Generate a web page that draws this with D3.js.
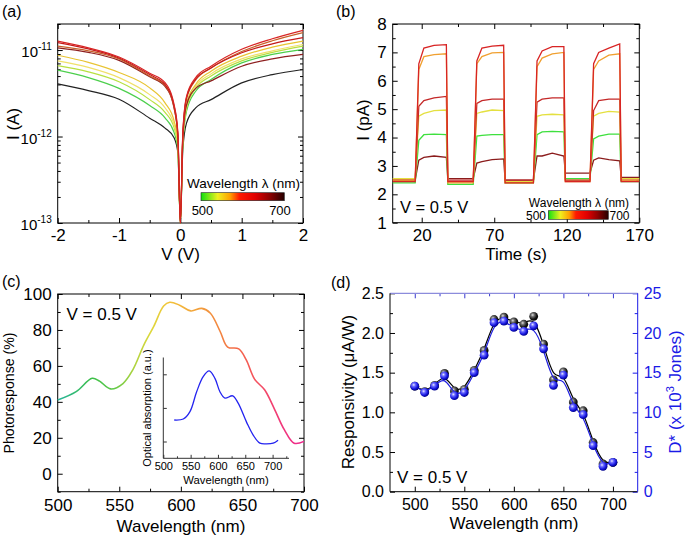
<!DOCTYPE html>
<html><head><meta charset="utf-8">
<script src="https://cdn.jsdelivr.net/npm/d3@7"></script>
<style>
body{margin:0;background:#fff;}
svg text{font-family:"Liberation Sans",Arial,sans-serif;}
</style></head><body>
<svg id="chart" width="685" height="536" xmlns="http://www.w3.org/2000/svg"></svg>
<script>
// ---------------- DATA ----------------
// (a) I-V curves, |I| in pA
const ivV = [-2,-1.5,-1,-0.5,-0.25,-0.1,-0.04,0,0.04,0.1,0.25,0.5,1,1.5,2];
const ivDark   = [4.06,3.4,2.7,1.63,1.25,0.96,0.65,0.1,0.7,1.43,2.14,2.67,4.17,5.2,5.96];
const iv510    = [5.85,4.8,3.6,2.28,1.64,1.1,0.7,0.1,0.8,1.95,3.34,4.56,7.1,8.9,10.2];
const iv540    = [6.6,5.6,4.3,2.67,1.9,1.25,0.75,0.1,0.85,2.1,3.6,5.0,7.5,9.4,11.1];
const iv565    = [7.5,6.3,4.8,3.05,2.15,1.35,0.8,0.1,0.9,2.2,3.8,5.3,7.9,9.8,11.6];
const iv580    = [8.7,7.2,5.5,3.65,2.45,1.5,0.85,0.1,0.95,2.4,4.0,5.7,8.5,10.8,12.7];
const iv690    = [10.6,9.4,7.6,4.9,3.8,2.1,1.0,0.1,0.95,2.3,3.6,4.4,6.5,7.9,8.9];
const iv600    = [11.1,9.8,7.9,5.0,3.9,2.1,1.0,0.1,1.0,2.7,4.5,6.2,9.6,12.8,15.9];
const iv650    = [12.2,10.3,8.1,5.2,4.0,2.2,1.05,0.1,1.05,2.8,4.6,6.2,9.3,11.8,13.9];
const iv620    = [12.7,10.6,8.3,5.4,4.2,2.3,1.1,0.1,1.1,2.9,4.8,6.5,10.2,13.5,16.9];
const ivSeries = [
  {v: ivDark, c:'#222222'}, {v: iv510, c:'#4ccf4c'}, {v: iv540, c:'#b8e040'},
  {v: iv565, c:'#f0e06a'}, {v: iv580, c:'#e8c432'}, {v: iv690, c:'#8e2020'},
  {v: iv600, c:'#c8602a'}, {v: iv650, c:'#c41a1a'}, {v: iv620, c:'#d82424'}
];
const aXTicks = [-2,-1,0,1,2];
const aXMinor = [-1.5,-0.5,0.5,1.5];
const aYTicks = [1e-13,1e-12,1e-11];
const aYLabels = ['-13','-12','-11'];

// (b) transient photocurrent (pA)
const tOn  = [15.5, 55.5, 97, 136];
const tOff = [37, 76.5, 118, 156.5];
const platOffsets = [2.5, 6, 13];   // s after light on where plateau levels were read
const bTraces = [
  {c:'#8b1c1c', base:[2.5,2.55,2.5,2.75,2.6], plat:[[3.2,3.3,3.35,3.3],[3.1,3.15,3.22,3.25],[3.35,3.35,3.45,3.35],[3.2,3.28,3.22,3.18]]},
  {c:'#3ee03e', base:[2.4,2.35,2.4,2.55,2.45], plat:[[3.9,4.1,4.12,4.1],[4.05,4.08,4.1,4.1],[4.1,4.2,4.22,4.2],[3.95,4.05,4.12,4.12]]},
  {c:'#e4e040', base:[2.55,2.45,2.45,2.5,2.55], plat:[[4.75,4.85,4.95,4.97],[4.85,4.9,4.97,4.95],[4.75,4.8,4.82,4.8],[4.75,4.85,4.92,4.9]]},
  {c:'#c42828', base:[2.5,2.5,2.5,2.5,2.5], plat:[[5.1,5.3,5.4,5.45],[5.2,5.3,5.35,5.35],[5.25,5.35,5.4,5.4],[4.95,5.3,5.35,5.35]]},
  {c:'#f0a030', base:[2.5,2.4,2.4,2.45,2.5], plat:[[6.4,6.85,6.92,6.95],[6.6,6.85,6.98,7.0],[6.5,6.8,6.95,7.0],[6.4,6.7,6.9,6.95]]},
  {c:'#d82424', base:[2.45,2.45,2.4,2.45,2.45], plat:[[6.6,7.15,7.25,7.27],[6.7,7.15,7.22,7.25],[6.7,7.05,7.2,7.2],[6.6,7.0,7.15,7.3]]}
];
const bXTicks = [20,70,120,170];
const bXMinor = [45,95,145];
const bYTicks = [1,2,3,4,5,6,7,8];
const bYMinor = [1.5,2.5,3.5,4.5,5.5,6.5,7.5];

// (c) photoresponse spectrum
const prWl  = [500,515,528,534,543,553,561,570,578,586,591,599,608,617,624,632,638,647,653,660,668,676,684,692,700];
const prVal = [41,45.7,53.1,51.5,47.2,50.2,57.8,71.7,82,93.3,95.4,93.8,90.6,92,89.3,79,70.5,69.5,63.5,52.5,46.7,36,24.5,17,18];
const absWl  = [520,536.6,548.8,561,573,584,594.5,603.6,612.8,626.9,637,652.5,664.5,676.8,689,701,710];
const absVal = [1.14,1.17,1.39,1.98,2.43,2.6,2.38,1.98,1.79,1.86,1.64,1.07,0.69,0.45,0.43,0.45,0.54];
const cXTicks = [500,550,600,650,700];
const cXMinor = [525,575,625,675];
const cYTicks = [0,20,40,60,80,100];
const cYMinor = [-10,10,30,50,70,90];
const insXTicks = [500,550,600,650,700];
const insXMinor = [525,575,625,675,725];
const insYTicks = [0.5,1.5,2.5];

// (d) responsivity & detectivity
const dWl    = [500,510,520,530,540,550,560,570,580,590,600,610,620,630,640,650,660,670,680,690,700];
const resp   = [1.33,1.26,1.34,1.49,1.27,1.29,1.53,1.78,2.17,2.2,2.14,2.11,2.21,1.86,1.41,1.51,1.13,1.02,0.62,0.35,0.37];
const dstar  = [13.3,12.5,13.3,14.6,12.1,12.5,15.0,17.2,21.3,21.5,20.7,20.2,20.9,18.0,13.4,14.7,10.6,9.7,5.8,3.2,3.7];
const dXTicks = [500,550,600,650,700];
const dXMinor = [525,575,625,675];
const dYTicks = [0,0.5,1,1.5,2,2.5];
const dYMinor = [0.25,0.75,1.25,1.75,2.25];
const dY2Ticks = [0,5,10,15,20,25];
const dY2Minor = [2.5,7.5,12.5,17.5,22.5];

// ---------------- DRAW ----------------
const FONT = '"Liberation Sans", Arial, sans-serif';
const svg = d3.select('#chart');
svg.append('rect').attr('width',685).attr('height',536).attr('fill','#fff');
const defs = svg.append('defs');

function ax(g, orient, scale, pos, major, minor, fmt, opt={}) {
  const gen = {bottom:d3.axisBottom, top:d3.axisTop, left:d3.axisLeft, right:d3.axisRight}[orient];
  const tr = (orient==='bottom'||orient==='top') ? `translate(0,${pos})` : `translate(${pos},0)`;
  const color = opt.color || '#000';
  const a = g.append('g').attr('transform', tr)
    .call(gen(scale).tickValues(major).tickSize(-(opt.len||5)).tickSizeOuter(0)
      .tickPadding(opt.pad==null?6:opt.pad).tickFormat(fmt || (()=>'')));
  a.attr('font-family', null).attr('font-size', null);
  a.select('.domain').remove();
  a.selectAll('line').attr('stroke', color);
  a.selectAll('text').attr('fill', opt.tcolor || color).style('font-size', (opt.fs||17)+'px').style('font-family', FONT);
  if (minor) {
    const m = g.append('g').attr('transform', tr)
      .call(gen(scale).tickValues(minor).tickSize(-(opt.mlen||3)).tickSizeOuter(0).tickFormat(()=>''));
    m.select('.domain').remove();
    m.selectAll('line').attr('stroke', color);
  }
  return a;
}
function box(g, x, y, color='#000') {
  const [x0,x1] = x.range(), [y0,y1] = y.range();
  g.append('rect').attr('x',x0).attr('y',y1).attr('width',x1-x0).attr('height',y0-y1)
    .attr('fill','none').attr('stroke',color).attr('stroke-width',1);
}
function txt(g, x, y, s, fs, opt={}) {
  const t = g.append('text').attr('x',x).attr('y',y).text(s)
    .style('font-size', fs+'px').attr('text-anchor', opt.anchor||'start').attr('fill', opt.fill||'#000');
  if (opt.rot) t.attr('transform', `rotate(-90,${x},${y})`);
  if (opt.family) t.style('font-family', opt.family);
  return t;
}
function gradient(id, stops, attrs) {
  const lg = defs.append('linearGradient').attr('id', id);
  Object.entries(attrs||{x1:'0%',x2:'100%',y1:'0%',y2:'0%'}).forEach(([k,v])=>lg.attr(k,v));
  stops.forEach(s=>lg.append('stop').attr('offset', s[0]).attr('stop-color', s[1]));
}
const cbStops = [[0,'#10e010'],[0.2,'#eef020'],[0.35,'#ffa000'],[0.46,'#ff1a00'],[0.65,'#e00000'],[0.82,'#900000'],[1,'#250000']];
gradient('cbar', cbStops);

// ===== Panel (a) =====
const gA = svg.append('g');
const xA = d3.scaleLinear([-2,2],[57.7,303]);
const yA = d3.scaleLog([1e-13,2e-11],[223,24]);
const aMinorY = [];
[1e-13,1e-12].forEach(d=>{ for(let k=2;k<=9;k++) aMinorY.push(k*d); });
aMinorY.push(2e-11);
ax(gA,'bottom',xA,223,aXTicks,aXMinor,d=>String(d),{pad:6});
ax(gA,'top',xA,24,aXTicks,aXMinor,null);
const ayAx = ax(gA,'left',yA,57.7,aYTicks,aMinorY,()=>'',{pad:6});
ayAx.selectAll('text').each(function(d,i){
  const t = d3.select(this);
  t.attr('dy','0.4em');
  t.append('tspan').text('10').style('font-size','15px');
  t.append('tspan').text(aYLabels[i]).attr('dy','-7').style('font-size','10px');
});
ax(gA,'right',yA,303,aYTicks,aMinorY,null);
box(gA,xA,yA);
const lineA = d3.line().x(d=>xA(d[0])).y(d=>yA(d[1]*1e-12)).curve(d3.curveMonotoneX);
ivSeries.forEach(s=>{
  gA.append('path').datum(ivV.map((v,i)=>[v,s.v[i]])).attr('d',lineA)
    .attr('fill','none').attr('stroke',s.c).attr('stroke-width',1.2);
});
txt(gA,2,17,'(a)',16);
txt(gA,19,124,'I (A)',17,{anchor:'middle',rot:true});
txt(gA,180.5,260,'V (V)',17,{anchor:'middle'});
// colorbar (a)
gA.append('rect').attr('x',201).attr('y',192.7).attr('width',83.3).attr('height',8)
  .attr('fill','url(#cbar)').attr('stroke','#222').attr('stroke-width',0.6);
txt(gA,243.5,188,'Wavelength λ (nm)',13.5,{anchor:'middle'});
txt(gA,202.5,215,'500',13,{anchor:'middle'});
txt(gA,280,215,'700',13,{anchor:'middle'});

// ===== Panel (b) =====
const gB = svg.append('g');
const xB = d3.scaleLinear([0,170],[392.7,639.3]);
const yB = d3.scaleLinear([1,8],[222.7,24]);
ax(gB,'bottom',xB,222.7,bXTicks,bXMinor,d3.format('d'),{pad:6});
ax(gB,'top',xB,24,bXTicks,bXMinor,null);
ax(gB,'left',yB,392.7,bYTicks,bYMinor,d3.format('d'),{pad:6});
ax(gB,'right',yB,639.3,bYTicks,bYMinor,null);
box(gB,xB,yB);
const lineB = d3.line().x(d=>xB(d[0])).y(d=>yB(d[1]));
bTraces.forEach(tr=>{
  const pts = [[0,tr.base[0]]];
  tOn.forEach((on,i)=>{
    pts.push([on, tr.base[i]]);
    platOffsets.forEach((o,k)=>pts.push([on+o, tr.plat[i][k]]));
    pts.push([tOff[i], tr.plat[i][3]]);
    pts.push([tOff[i]+1, tr.base[i+1]]);
  });
  pts.push([170, tr.base[4]]);
  gB.append('path').datum(pts).attr('d',lineB).attr('fill','none').attr('stroke',tr.c).attr('stroke-width',1.3);
});
txt(gB,336,17,'(b)',16);
txt(gB,369,120,'I (pA)',17,{anchor:'middle',rot:true});
txt(gB,516,260,'Time (s)',17,{anchor:'middle'});
txt(gB,400,213,'V = 0.5 V',16.5);
gB.append('rect').attr('x',548.3).attr('y',210.7).attr('width',60).attr('height',8.6)
  .attr('fill','url(#cbar)').attr('stroke','#222').attr('stroke-width',0.6);
txt(gB,579,207,'Wavelength λ (nm)',12,{anchor:'middle'});
txt(gB,546,219.5,'500',12,{anchor:'end'});
txt(gB,609.5,219.5,'700',12);

// ===== Panel (c) =====
const gC = svg.append('g');
const xC = d3.scaleLinear([500,700],[57.7,304]);
const yC = d3.scaleLinear([-10,100],[491.7,294]);
ax(gC,'bottom',xC,491.7,cXTicks,cXMinor,d3.format('d'),{pad:7});
ax(gC,'top',xC,294,cXTicks,cXMinor,null);
ax(gC,'left',yC,57.7,cYTicks,cYMinor,d3.format('d'),{pad:6});
ax(gC,'right',yC,304,cYTicks,cYMinor,null);
box(gC,xC,yC);
gradient('prgrad', [[0,'#28b59c'],[0.14,'#3cbf48'],[0.225,'#5ec94a'],[0.3,'#a5d23f'],[0.375,'#dcd83c'],[0.45,'#f2c43a'],[0.55,'#f2a63c'],[0.65,'#f2883f'],[0.725,'#f46a48'],[0.8,'#f4525c'],[0.9,'#f03a78'],[1,'#ee2890']],
  {gradientUnits:'userSpaceOnUse', x1:xC(500), x2:xC(700), y1:0, y2:0});
const lineC = d3.line().x(d=>xC(d[0])).y(d=>yC(d[1])).curve(d3.curveCatmullRom.alpha(0.5));
gC.append('path').datum(prWl.map((w,i)=>[w,prVal[i]])).attr('d',lineC)
  .attr('fill','none').attr('stroke','url(#prgrad)').attr('stroke-width',1.6);
txt(gC,2,287,'(c)',16);
txt(gC,14,393,'Photoresponse (%)',15,{anchor:'middle',rot:true}).attr('textLength',121).attr('lengthAdjust','spacingAndGlyphs');
txt(gC,181,532,'Wavelength (nm)',17,{anchor:'middle'});
txt(gC,66.5,320,'V = 0.5 V',17);
// inset
const xI = d3.scaleLinear([500,730],[163.3,289]);
const yI = d3.scaleLinear([0,3],[458.3,357.5]);
const gI = gC.append('g');
ax(gI,'bottom',xI,458.3,insXTicks,insXMinor,d3.format('d'),{pad:4,fs:11,len:3.5,mlen:2,color:'#333',tcolor:'#000'});
ax(gI,'left',yI,163.3,insYTicks,null,null,{len:3.5,color:'#333'});
gI.append('line').attr('x1',163.3).attr('x2',289).attr('y1',458.3).attr('y2',458.3).attr('stroke','#333');
gI.append('line').attr('x1',163.3).attr('x2',163.3).attr('y1',357.5).attr('y2',458.3).attr('stroke','#333');
const lineI = d3.line().x(d=>xI(d[0])).y(d=>yI(d[1])).curve(d3.curveCatmullRom.alpha(0.5));
gI.append('path').datum(absWl.map((w,i)=>[w,absVal[i]])).attr('d',lineI)
  .attr('fill','none').attr('stroke','#2424f0').attr('stroke-width',1.3);
txt(gI,150.5,408,'Optical absorption (a.u.)',11,{anchor:'middle',rot:true});
txt(gI,226,484,'Wavelength (nm)',11.3,{anchor:'middle'});

// ===== Panel (d) =====
const gD = svg.append('g');
const xD = d3.scaleLinear([475,725],[390,637.7]);
const yD = d3.scaleLinear([0,2.5],[491.7,293.3]);
const yD2 = d3.scaleLinear([0,25],[491.7,293.3]);
const BLUE = '#1a1ae6', TOPC = '#8c8cdc';
ax(gD,'bottom',xD,491.7,dXTicks,dXMinor,d3.format('d'),{pad:7,fs:16});
ax(gD,'top',xD,293.3,dXTicks,dXMinor,null,{color:'#3a3ad0'});
ax(gD,'left',yD,390,dYTicks,dYMinor,d3.format('.1f'),{pad:6,fs:16});
ax(gD,'right',yD2,637.7,dY2Ticks,dY2Minor,d3.format('d'),{pad:6,fs:16,color:BLUE});
gD.append('line').attr('x1',390).attr('x2',637.7).attr('y1',293.3).attr('y2',293.3).attr('stroke',TOPC).attr('stroke-width',1.3);
gD.append('line').attr('x1',390).attr('x2',637.7).attr('y1',491.7).attr('y2',491.7).attr('stroke','#000');
gD.append('line').attr('x1',390).attr('x2',390).attr('y1',293.3).attr('y2',491.7).attr('stroke','#000');
gD.append('line').attr('x1',637.7).attr('x2',637.7).attr('y1',293.3).attr('y2',491.7).attr('stroke',BLUE);
const rg1 = defs.append('radialGradient').attr('id','sphBlk').attr('cx','38%').attr('cy','35%').attr('r','65%');
[[0,'#e0e0e0'],[0.3,'#707070'],[0.7,'#181818'],[1,'#000']].forEach(s=>rg1.append('stop').attr('offset',s[0]).attr('stop-color',s[1]));
const rg2 = defs.append('radialGradient').attr('id','sphBlu').attr('cx','38%').attr('cy','35%').attr('r','65%');
[[0,'#e8e8ff'],[0.3,'#6a6aff'],[0.7,'#1818e0'],[1,'#00008c']].forEach(s=>rg2.append('stop').attr('offset',s[0]).attr('stop-color',s[1]));
const lineD = d3.line().x(d=>xD(d[0])).y(d=>d[1]).curve(d3.curveBasis);
gD.append('path').datum(dWl.map((w,i)=>[w,yD(resp[i])])).attr('d',lineD).attr('fill','none').attr('stroke','#000').attr('stroke-width',1.2);
gD.selectAll('.pb').data(dWl).enter().append('circle').attr('cx',d=>xD(d)).attr('cy',(d,i)=>yD(resp[i])).attr('r',4.4).attr('fill','url(#sphBlk)');
gD.append('path').datum(dWl.map((w,i)=>[w,yD2(dstar[i])])).attr('d',lineD).attr('fill','none').attr('stroke','#2020e0').attr('stroke-width',1.2);
gD.selectAll('.pu').data(dWl).enter().append('circle').attr('cx',d=>xD(d)).attr('cy',(d,i)=>yD2(dstar[i])).attr('r',4.4).attr('fill','url(#sphBlu)');
txt(gD,331,288,'(d)',16);
txt(gD,354,392,'Responsivity (μA/W)',17,{anchor:'middle',rot:true});
const rl = gD.append('text').attr('x',681).attr('y',392).attr('text-anchor','middle').attr('fill',BLUE)
  .attr('transform','rotate(-90,681,392)').style('font-size','17px');
rl.append('tspan').text('D* (x 10');
rl.append('tspan').text('3').attr('dy','-7').style('font-size','11px');
rl.append('tspan').text(' Jones)').attr('dy','7');
txt(gD,514,529,'Wavelength (nm)',17,{anchor:'middle'});
txt(gD,397,483,'V = 0.5 V',17);
</script></body></html>
